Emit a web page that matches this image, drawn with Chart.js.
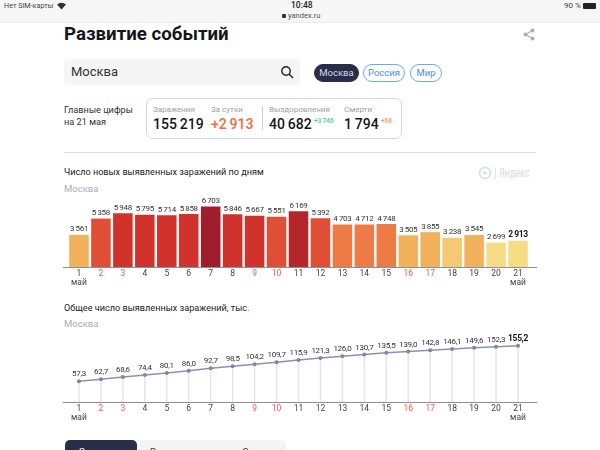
<!DOCTYPE html>
<html lang="ru">
<head>
<meta charset="utf-8">
<title>Развитие событий</title>
<script src="https://cdn.jsdelivr.net/npm/chart.js@4"></script>
<style>
    html, body { margin: 0; padding: 0; background: #fff; }
    body { width: 600px; height: 450px; overflow: hidden; position: relative; font-family: Roboto, sans-serif; color: #14161c; }
    .t { position: absolute; white-space: nowrap; line-height: 1; }
    .box { position: absolute; box-sizing: border-box; }
    .pill { position: absolute; box-sizing: border-box; height: 18px; border-radius: 9px; border: 1px solid #6fa8ec; color: #4a90e2; font-size: 9.5px; line-height: 16px; text-align: center; }
    canvas { position: absolute; left: 0; }
    .small { font-size: 8px; color: #9aa0ac; }
    .num { font-size: 14px; font-weight: 500; }
</style>
</head>
<body>
<div class="box" style="left:0;top:0;width:600px;height:23px;background:#f6f6f6;border-bottom:1px solid #ececec"></div>
<div class="t" style="left:4px;top:2px;font-size:7.2px;color:#444">Нет SIM-карты</div>
<svg class="box" style="left:57px;top:2px" width="9" height="8" viewBox="0 0 9 8"><path d="M4.5 7.5 0 2.5a6.5 6.5 0 0 1 9 0z" fill="#333"/></svg>
<div class="t" style="left:291px;top:1px;font-size:8.5px;font-weight:500;color:#222">10:48</div>
<div class="box" style="left:282px;top:14px;width:4px;height:4px;background:#333;border-radius:1px"></div>
<div class="t" style="left:288px;top:12px;font-size:7.5px;color:#555">yandex.ru</div>
<div class="t" style="left:564px;top:2px;font-size:8px;color:#444">90 %</div>
<div class="box" style="left:583px;top:3px;width:13px;height:6px;background:#222;border-radius:1px"></div>

<div class="t" style="left:64px;top:25px;font-size:18.7px;font-weight:700">Развитие событий</div>
<svg class="box" style="left:523px;top:28px" width="12" height="13" viewBox="0 0 12 13"><path d="M9.5 2.5 2.5 6.5l7 4" fill="none" stroke="#a9adb8" stroke-width="1.2"/><circle cx="9.5" cy="2.5" r="2" fill="#a9adb8"/><circle cx="2.5" cy="6.5" r="2" fill="#a9adb8"/><circle cx="9.5" cy="10.5" r="2" fill="#a9adb8"/></svg>

<div class="box" style="left:64px;top:59px;width:236px;height:26px;background:#f5f5f5;border-radius:4px"></div>
<div class="t" style="left:71px;top:65px;font-size:13px;color:#333">Москва</div>
<svg class="box" style="left:280px;top:65px" width="14" height="14" viewBox="0 0 14 14"><circle cx="6" cy="6" r="4.2" fill="none" stroke="#222" stroke-width="1.4"/><path d="M9 9l4 4" stroke="#222" stroke-width="1.5"/></svg>

<div class="pill" style="left:314px;top:64px;width:45px;background:#2a2d4a;border-color:#2a2d4a;color:#d5d7e0">Москва</div>
<div class="pill" style="left:363px;top:64px;width:42px">Россия</div>
<div class="pill" style="left:410px;top:64px;width:32px">Мир</div>

<div class="t" style="left:64px;top:104px;font-size:9.2px;line-height:12px;color:#333">Главные цифры<br>на 21 мая</div>
<div class="box" style="left:146px;top:98px;width:256px;height:41px;border:1px solid #d5d8e0;border-radius:6px"></div>
<div class="t small" style="left:153px;top:106px">Заражения</div>
<div class="t num" style="left:153px;top:117px">155&#8201;219</div>
<div class="t small" style="left:211px;top:106px">За сутки</div>
<div class="t num" style="left:211px;top:117px;color:#f26b3a">+2&#8201;913</div>
<div class="box" style="left:262px;top:106px;width:1px;height:24px;background:#c9ccd4"></div>
<div class="t small" style="left:269px;top:106px">Выздоровления</div>
<div class="t num" style="left:269px;top:117px">40&#8201;682</div>
<div class="t" style="left:314px;top:118px;font-size:6.5px;font-weight:500;color:#4fc79a">+3&#8201;746</div>
<div class="t small" style="left:344px;top:106px">Смерти</div>
<div class="t num" style="left:344px;top:117px">1&#8201;794</div>
<div class="t" style="left:381px;top:118px;font-size:6.5px;font-weight:500;color:#f59a5c">+68</div>
<div class="box" style="left:64px;top:152px;width:472px;height:1px;background:#dcdee4"></div>

<svg class="box" style="left:478px;top:166px" width="14" height="14" viewBox="0 0 14 14"><circle cx="7" cy="7" r="5.5" fill="none" stroke="#dfe1e8" stroke-width="2"/><circle cx="7" cy="7" r="1.8" fill="#dfe1e8"/></svg>
<div class="box" style="left:495px;top:167px;width:1px;height:12px;background:#e2e4ea"></div>
<div class="t" style="left:499px;top:167px;font-size:12px;font-weight:500;color:#dfe1e8;transform:scaleX(.75);transform-origin:left">Яндекс</div>

<div class="t" style="left:64px;top:168px;font-size:9.1px;color:#222">Число новых выявленных заражений по дням</div>
<div class="t" style="left:64px;top:184px;font-size:9.5px;color:#a9aebb">Москва</div>
<canvas id="bars" width="600" height="124" style="top:175px"></canvas>

<div class="t" style="left:64px;top:304px;font-size:9.15px;color:#222">Общее число выявленных заражений, тыс.</div>
<div class="t" style="left:64px;top:319px;font-size:9.5px;color:#a9aebb">Москва</div>
<canvas id="line" width="600" height="109" style="top:325px"></canvas>

<div class="box" style="left:65px;top:440px;width:221px;height:20px;background:#f4f4f4;border-radius:5px"></div>
<div class="box" style="left:65px;top:440px;width:72px;height:20px;background:#2a2d4a;border-radius:5px"></div>
<div class="t" style="left:79px;top:448px;font-size:10px;color:#fff">Заражения</div>
<div class="t" style="left:150px;top:448px;font-size:10px;color:#444">Выздоровления</div>
<div class="t" style="left:242px;top:448px;font-size:10px;color:#444">Смерти</div>

<script>
const days = ["1", "2", "3", "4", "5", "6", "7", "8", "9", "10", "11", "12", "13", "14", "15", "16", "17", "18", "19", "20", "21"];
const weekendDays = ["2", "3", "9", "10", "16", "17"];
const monthName = "май";
const newCases = [3561, 5358, 5948, 5795, 5714, 5858, 6703, 5846, 5667, 5551, 6169, 5392, 4703, 4712, 4748, 3505, 3855, 3238, 3545, 2699, 2913];
const totalCases = [57.3, 62.7, 68.6, 74.4, 80.1, 86.0, 92.7, 98.5, 104.2, 109.7, 115.9, 121.3, 126.0, 130.7, 135.5, 139.0, 142.8, 146.1, 149.6, 152.3, 155.2];

function barColour(v) {
    if (v < 3000) return "#f5dc85";
    if (v < 3300) return "#f5c873";
    if (v < 4000) return "#f2b25c";
    if (v < 5000) return "#ee7a45";
    if (v < 5600) return "#e04e35";
    if (v < 6000) return "#d2322c";
    if (v < 6500) return "#b5262a";
    return "#a01e2c";
}

function axisLabels(value, index) {
    const day = days[index];
    return index === 0 || index === days.length - 1 ? [day, monthName] : day;
}

// values above the marks and the long axis line
const valueLabels = {
    id: "valueLabels",
    afterDatasetsDraw(chart, args, opts) {
        const ctx = chart.ctx;
        const base = chart.scales.y.getPixelForValue(0);
        const meta = chart.getDatasetMeta(0);
        ctx.save();
        ctx.strokeStyle = "#8d8f98";
        ctx.lineWidth = 1;
        ctx.beginPath();
        ctx.moveTo(63, base + 0.5);
        ctx.lineTo(537, base + 0.5);
        ctx.stroke();
        ctx.textAlign = "center";
        ctx.textBaseline = "bottom";
        ctx.letterSpacing = "-0.3px";
        meta.data.forEach((el, i) => {
            const last = i === meta.data.length - 1;
            ctx.font = (last ? "700 8.5px " : "400 8px ") + "Roboto, sans-serif";
            ctx.fillStyle = last ? "#14161c" : "#333";
            ctx.fillText(opts.format(chart.data.datasets[0].data[i]), el.x, el.y - opts.gap);
        });
        ctx.restore();
    },
};

// thin drop lines under the points
const dropLines = {
    id: "dropLines",
    beforeDatasetsDraw(chart) {
        const ctx = chart.ctx;
        const base = chart.scales.y.getPixelForValue(0);
        ctx.save();
        ctx.strokeStyle = "#e3e5ed";
        ctx.lineWidth = 1.5;
        chart.getDatasetMeta(0).data.forEach((el) => {
            ctx.beginPath();
            ctx.moveTo(el.x, el.y);
            ctx.lineTo(el.x, base);
            ctx.stroke();
        });
        ctx.restore();
    },
};

function xAxis() {
    return {
        offset: true,
        grid: { display: false, drawTicks: false },
        border: { display: false },
        afterFit(scale) { scale.height = 32; },
        ticks: {
            autoSkip: false,
            maxRotation: 0,
            padding: 3,
            callback: axisLabels,
            color: (c) => (weekendDays.includes(days[c.index]) ? "#ef5a4c" : "#444"),
            font: { family: "Roboto, sans-serif", size: 8.5, lineHeight: 1 },
        },
    };
}

new Chart(document.getElementById("bars"), {
    type: "bar",
    data: {
        labels: days,
        datasets: [{
            data: newCases,
            backgroundColor: newCases.map(barColour),
            categoryPercentage: 1,
            barPercentage: 0.89,
        }],
    },
    plugins: [valueLabels],
    options: {
        responsive: false,
        animation: false,
        layout: { padding: { left: 68, right: 71, top: 0, bottom: 0 } },
        scales: { x: xAxis(), y: { display: false, min: 0, max: 10180 } },
        plugins: {
            legend: { display: false },
            tooltip: { enabled: false },
            valueLabels: { gap: 1.5, format: (v) => String(v).replace(/(\d)(\d{3})$/, "$1\u2009$2") },
        },
    },
});

new Chart(document.getElementById("line"), {
    type: "line",
    data: {
        labels: days,
        datasets: [{
            data: totalCases,
            borderColor: "#8a93ad",
            borderWidth: 1.5,
            pointRadius: 2,
            pointBackgroundColor: "#7d86a3",
            pointBorderWidth: 0,
            tension: 0,
        }],
    },
    plugins: [dropLines, valueLabels],
    options: {
        responsive: false,
        animation: false,
        layout: { padding: { left: 68, right: 71, top: 0, bottom: 0 } },
        scales: { x: xAxis(), y: { display: false, min: 0, max: 201 } },
        plugins: {
            legend: { display: false },
            tooltip: { enabled: false },
            valueLabels: { gap: 3, format: (v) => v.toFixed(1).replace(".", ",") },
        },
    },
});
</script>
</body>
</html>
